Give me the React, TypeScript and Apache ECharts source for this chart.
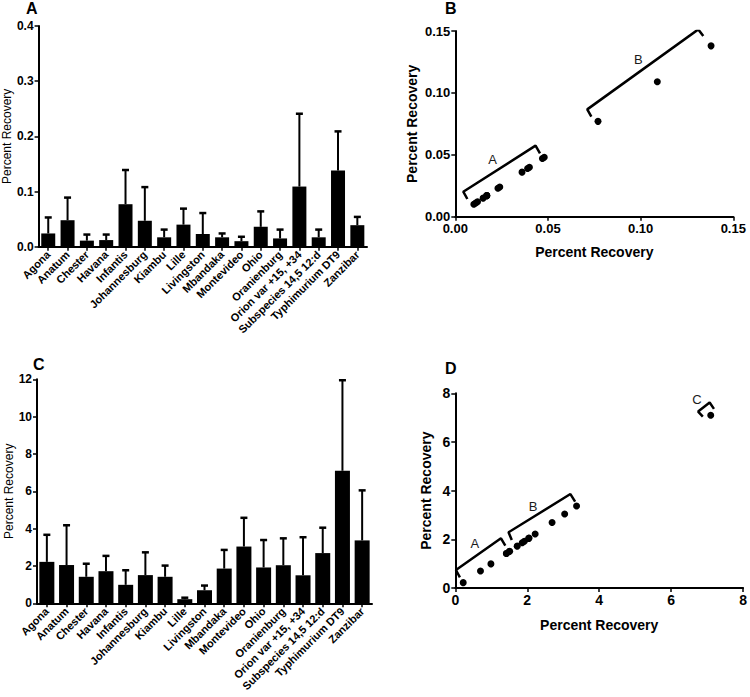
import React, { useEffect, useRef } from "react";
import * as echarts from "echarts";

const categories = [
  "Agona", "Anatum", "Chester", "Havana", "Infantis", "Johannesburg", "Kiambu", "Lille",
  "Livingston", "Mbandaka", "Montevideo", "Ohio", "Oranienburg", "Orion var +15, +34",
  "Subspecies 14,5 12:d", "Typhimurium DT9", "Zanzibar",
];
const meanA = [0.024, 0.048, 0.011, 0.012, 0.077, 0.047, 0.017, 0.040, 0.023, 0.017, 0.010, 0.036, 0.015, 0.109, 0.017, 0.138, 0.039];
const errTopA = [0.053, 0.089, 0.022, 0.022, 0.139, 0.108, 0.031, 0.069, 0.061, 0.024, 0.018, 0.064, 0.031, 0.241, 0.031, 0.209, 0.054];
const meanC = [2.22, 2.05, 1.42, 1.72, 0.99, 1.51, 1.42, 0.22, 0.70, 1.86, 3.04, 1.92, 2.04, 1.50, 2.69, 7.10, 3.37];
const errTopC = [3.67, 4.18, 2.12, 2.54, 1.77, 2.73, 2.02, 0.30, 0.95, 2.86, 4.58, 3.39, 3.48, 3.54, 4.05, 11.95, 6.05];

const bracketsB = [
  [[0.0065, 0.0143], [0.0043, 0.0202], [0.0433, 0.0574], [0.0457, 0.0512]],
  [[0.0734, 0.0808], [0.0712, 0.0867], [0.1311, 0.1513], [0.1338, 0.146]],
];
const bracketLabelsB = [
  { name: "A", value: [0.0201, 0.0463] },
  { name: "B", value: [0.0987, 0.127] },
];
const bracketsD = [
  [[0.128, 0.44], [0.018, 0.74], [1.27, 2.04], [1.39, 1.74]],
  [[1.57, 1.97], [1.48, 2.29], [3.2, 3.86], [3.33, 3.55]],
  [[6.88, 7.04], [6.75, 7.25], [7.07, 7.62], [7.19, 7.36]],
];
const bracketLabelsD = [
  { name: "A", value: [0.54, 1.81] },
  { name: "B", value: [2.16, 3.34] },
  { name: "C", value: [6.72, 7.75] },
];

const FONT = "Liberation Sans, Arial, sans-serif";

export default function App() {
  const ref = useRef<HTMLDivElement>(null);
  useEffect(() => {
    if (!ref.current) return;
    const chart = echarts.init(ref.current, null, { renderer: "svg" });

    const axisLine = { show: true, lineStyle: { color: "#000", width: 2 } };
    const axisTick = { show: true, inside: false, length: 4, lineStyle: { color: "#000", width: 1.5 } };

    const catAxis = (gridIndex: number) => ({
      type: "category",
      gridIndex,
      data: categories,
      axisLine,
      axisTick: { ...axisTick, alignWithLabel: true },
      axisLabel: {
        interval: 0,
        rotate: 45,
        margin: 6,
        fontFamily: FONT,
        fontWeight: "bold",
        fontSize: 11,
        color: "#000",
      },
    });

    const valAxis = (gridIndex: number, max: number, interval: number, digits: number, fontSize: number, name: string, nameGap: number, nameBold: boolean, nameSize: number) => ({
      type: "value",
      gridIndex,
      min: 0,
      max,
      interval,
      splitLine: { show: false },
      axisLine,
      axisTick,
      axisLabel: {
        formatter: (v: number) => v.toFixed(digits),
        fontFamily: FONT,
        fontWeight: "bold",
        fontSize,
        color: "#000",
        margin: 5,
      },
      name,
      nameLocation: "middle",
      nameGap,
      nameTextStyle: {
        fontFamily: FONT,
        fontWeight: nameBold ? "bold" : "normal",
        fontSize: nameSize,
        color: "#000",
      },
    });

    const errorSeries = (xAxisIndex: number, yAxisIndex: number, means: number[], tops: number[]) => ({
      type: "custom",
      xAxisIndex,
      yAxisIndex,
      z: 5,
      data: means.map((m, i) => [i, m, tops[i]]),
      renderItem: (params: any, api: any) => {
        const p0 = api.coord([api.value(0), api.value(1)]);
        const p1 = api.coord([api.value(0), api.value(2)]);
        const cap = 3.5;
        return {
          type: "group",
          children: [
            { type: "line", shape: { x1: p0[0], y1: p0[1], x2: p1[0], y2: p1[1] }, style: { stroke: "#000", lineWidth: 2 } },
            { type: "line", shape: { x1: p1[0] - cap, y1: p1[1], x2: p1[0] + cap, y2: p1[1] }, style: { stroke: "#000", lineWidth: 2.5 } },
          ],
        };
      },
    });

    const bracketSeries = (xAxisIndex: number, yAxisIndex: number, pts: number[][]) => ({
      type: "line",
      xAxisIndex,
      yAxisIndex,
      data: pts,
      symbol: "none",
      lineStyle: { color: "#000", width: 2.5 },
      z: 4,
    });

    const labelSeries = (xAxisIndex: number, yAxisIndex: number, data: any[]) => ({
      type: "scatter",
      xAxisIndex,
      yAxisIndex,
      data,
      symbolSize: 0.01,
      itemStyle: { color: "rgba(0,0,0,0)", opacity: 1 },
      label: {
        show: true,
        position: "inside",
        formatter: "{b}",
        fontFamily: FONT,
        fontSize: 13,
        color: "#1a1a1a",
        opacity: 1,
      },
    });

    const scatterAxis = (gridIndex: number, max: number, interval: number, digits: number, fontSize: number, nameGap: number) =>
      valAxis(gridIndex, max, interval, digits, fontSize, "Percent Recovery", nameGap, true, 14);

    const option: any = {
      animation: false,
      backgroundColor: "#fff",
      grid: [
        { left: 36, top: 26, width: 331, height: 220.7 },
        { left: 455.3, top: 31, width: 278, height: 185.7 },
        { left: 37, top: 379.3, width: 335, height: 224 },
        { left: 455.3, top: 393.3, width: 291.4, height: 194.7 },
      ],
      xAxis: [
        catAxis(0),
        { ...scatterAxis(1, 0.15, 0.05, 2, 13, 28) },
        catAxis(2),
        { ...scatterAxis(3, 8, 2, 0, 14, 30) },
      ],
      yAxis: [
        valAxis(0, 0.4, 0.1, 1, 12, "Percent Recovery", 22, false, 12),
        { ...scatterAxis(1, 0.15, 0.05, 2, 13, 36) },
        valAxis(2, 12, 2, 0, 12, "Percent Recovery", 20, false, 12),
        { ...scatterAxis(3, 8, 2, 0, 14, 22) },
      ],
      series: [
        {
          type: "bar",
          xAxisIndex: 0,
          yAxisIndex: 0,
          data: meanA,
          barWidth: 14,
          itemStyle: { color: "#000" },
        },
        errorSeries(0, 0, meanA, errTopA),
        {
          type: "bar",
          xAxisIndex: 2,
          yAxisIndex: 2,
          data: meanC,
          barWidth: 15,
          itemStyle: { color: "#000" },
        },
        errorSeries(2, 2, meanC, errTopC),
        {
          type: "scatter",
          xAxisIndex: 1,
          yAxisIndex: 1,
          data: meanA.map((v) => [v, v]),
          symbolSize: 7,
          itemStyle: { color: "#000", opacity: 1 },
        },
        ...bracketsB.map((b) => bracketSeries(1, 1, b)),
        labelSeries(1, 1, bracketLabelsB),
        {
          type: "scatter",
          xAxisIndex: 3,
          yAxisIndex: 3,
          data: meanC.map((v) => [v, v]),
          symbolSize: 7,
          itemStyle: { color: "#000", opacity: 1 },
        },
        ...bracketsD.map((b) => bracketSeries(3, 3, b)),
        labelSeries(3, 3, bracketLabelsD),
      ],
      graphic: [
        { type: "text", left: 26, top: 0, style: { text: "A", font: `bold 16px ${FONT}`, fill: "#000" } },
        { type: "text", left: 445, top: 0, style: { text: "B", font: `bold 16px ${FONT}`, fill: "#000" } },
        { type: "text", left: 33, top: 356, style: { text: "C", font: `bold 16px ${FONT}`, fill: "#000" } },
        { type: "text", left: 445, top: 360, style: { text: "D", font: `bold 16px ${FONT}`, fill: "#000" } },
      ],
    };
    chart.setOption(option);
    return () => chart.dispose();
  }, []);
  return (
    <div
      ref={ref}
      style={{ position: "absolute", left: 0, top: 0, width: 750, height: 697, background: "#fff" }}
    />
  );
}
